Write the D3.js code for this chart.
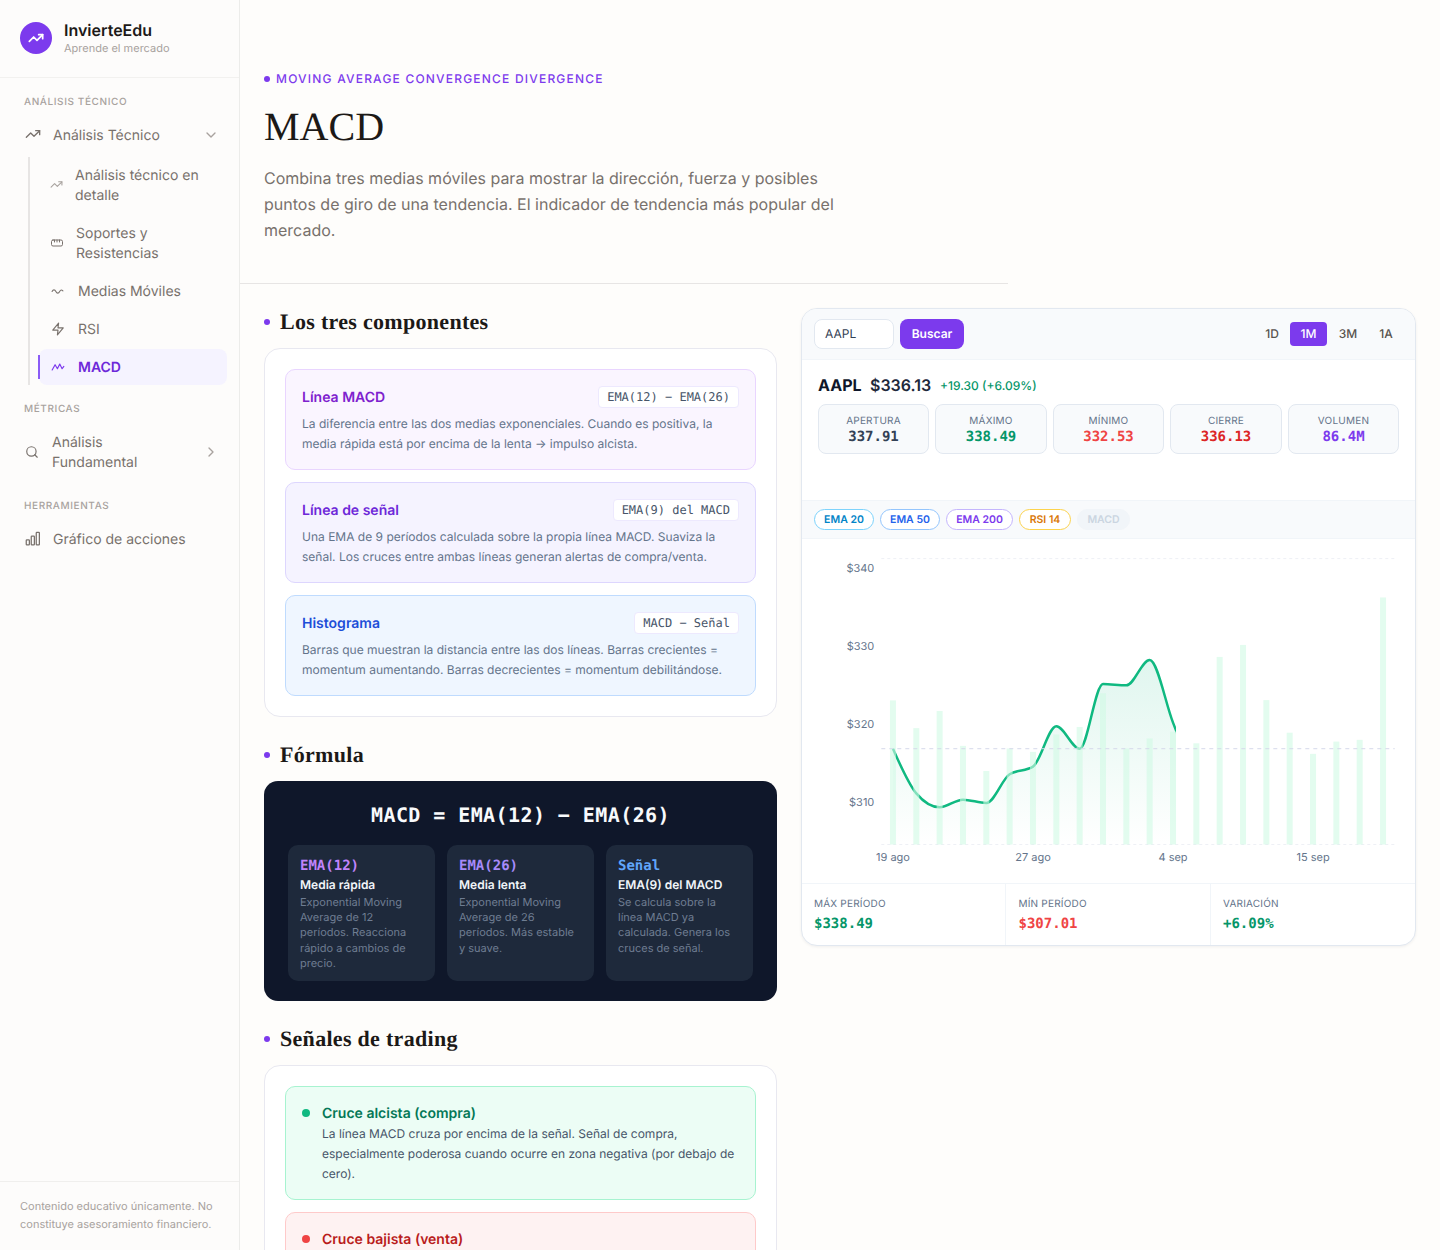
<!DOCTYPE html>
<html lang="es">
<head>
<meta charset="utf-8">
<title>MACD</title>
<script src="https://cdn.jsdelivr.net/npm/d3@7"></script>
<style>
* { box-sizing: border-box; margin: 0; padding: 0; }
html, body { width: 1440px; height: 1250px; overflow: hidden; background: #fefdfb; font-family: Inter, sans-serif; text-rendering: geometricPrecision; }
.abs { position: absolute; white-space: nowrap; }
.mono { font-family: "DejaVu Sans Mono", monospace; }
.serif { font-family: "Liberation Serif", serif; }

#sidebar { position: absolute; left: 0; top: 0; width: 240px; height: 1250px; border-right: 1px solid #ececea; background: #fdfcfb; }
#sidebar .nav { font-size: 14px; line-height: 20px; color: #78716c; margin-top: 1px; }
#sidebar .sec { font-size: 10px; font-weight: 500; letter-spacing: .6px; color: #a8a29e; line-height: 14px; margin-top: 1px; }
#sidebar svg { position: absolute; fill: none; stroke: #78716c; stroke-width: 2; stroke-linecap: round; stroke-linejoin: round; }

#head { position: absolute; left: 240px; top: 0; width: 768px; height: 284px; border-bottom: 1px solid #e7e5e4; }
.eyebrow { position: absolute; left: 36px; top: 71px; font-size: 12px; line-height: 15px; font-weight: 500; letter-spacing: 1.2px; color: #7c3aed; white-space: nowrap; }
.dot { position: absolute; width: 6px; height: 6px; border-radius: 50%; background: #7c3aed; }
h1 { position: absolute; left: 24px; top: 104px; font-size: 40px; line-height: 46px; font-weight: 400; color: #1c1917; }
.lead { position: absolute; left: 24px; top: 165px; width: 590px; font-size: 16px; line-height: 26px; color: #78716c; }

h2 { position: absolute; left: 280px; font-size: 22px; line-height: 26px; font-weight: 700; letter-spacing: .3px; color: #1c1917; white-space: nowrap; }
.panel { position: absolute; left: 264px; width: 513px; background: #fff; border: 1px solid #e8e8f0; border-radius: 16px; }
.comp { position: absolute; left: 20px; width: 471px; height: 101px; border-radius: 10px; border: 1px solid; padding: 16px; }
.comp b { position: absolute; left: 16px; top: 19px; font-size: 14px; line-height: 18px; font-weight: 600; }
.comp .tag { position: absolute; right: 16px; top: 16px; height: 22px; padding: 0 8px; background: #fff; border: 1px solid #ede9fe; border-radius: 4px; font-size: 12px; line-height: 20px; color: #475569; white-space: nowrap; }
.comp p { position: absolute; left: 16px; top: 44px; width: 436px; font-size: 12px; line-height: 20px; color: #64748b; }

#formula { position: absolute; left: 264px; top: 781px; width: 513px; height: 220px; border-radius: 14px; background: #0f172a; }
#formula .eq { position: absolute; left: 0; width: 513px; top: 21px; text-align: center; font-size: 20px; line-height: 26px; font-weight: 700; letter-spacing: .42px; color: #f8fafc; }
.fcard { position: absolute; top: 64px; width: 147px; height: 136px; border-radius: 10px; background: #1e293b; padding: 12px 12px; }
.fcard .t { font-size: 14px; line-height: 18px; font-weight: 700; }
.fcard .s { font-size: 12px; line-height: 15px; margin-top: 2px; font-weight: 600; color: #f1f5f9; }
.fcard .d { font-size: 11px; line-height: 15.2px; margin-top: 3px; color: #6f7d92; }

.sig { position: absolute; left: 20px; width: 471px; border-radius: 10px; border: 1px solid; }
.sig i { position: absolute; left: 16px; top: 22px; width: 8px; height: 8px; border-radius: 50%; }
.sig b { position: absolute; left: 36px; top: 18px; font-size: 14px; line-height: 18px; font-weight: 600; white-space: nowrap; }
.sig p { position: absolute; left: 36px; top: 37px; width: 420px; font-size: 12px; line-height: 20px; color: #475569; }

#card { position: absolute; left: 801px; top: 308px; width: 615px; height: 638px; background: #fff; border: 1px solid #e2e8f0; border-radius: 16px; overflow: hidden; box-shadow: 0 1px 3px rgba(15,23,42,.06); }
#card .abs { line-height: 14px; }
.bar { position: absolute; left: 0; width: 613px; background: #f8fafc; }
.ctr { text-align: center; }
.ohlc { position: absolute; top: 95px; height: 50px; background: #f8fafc; border: 1px solid #e2e8f0; border-radius: 8px; text-align: center; }
.ohlc span { display: block; font-size: 10px; line-height: 12px; margin-top: 10px; letter-spacing: .2px; color: #64748b; }
.ohlc strong { display: block; font-size: 14px; line-height: 18px; margin-top: 1px; font-weight: 700; }
.pill { position: absolute; top: 200px; height: 21px; border: 1px solid; border-radius: 11px; background: #fff; text-align: center; font-size: 10.5px; line-height: 19px; font-weight: 600; white-space: nowrap; }
.stat { position: absolute; top: 575px; height: 62px; padding-left: 12px; }
.stat span { display: block; margin-top: 13px; font-size: 10px; line-height: 14px; letter-spacing: .2px; color: #64748b; }
.stat strong { display: block; margin-top: 4px; font-size: 14px; line-height: 18px; font-weight: 700; }
#chart { position: absolute; left: 1px; top: 230px; }
#chart text { font-family: Inter, sans-serif; font-size: 11px; fill: #64748b; }
</style>
</head>
<body>

<div id="sidebar">
  <div class="abs" style="left:20px;top:22px;width:32px;height:32px;border-radius:50%;background:#7c3aed"></div>
  <svg style="left:28px;top:30px;stroke:#fff;stroke-width:2.6" width="16" height="16" viewBox="0 0 24 24"><path d="M22 7l-8.5 8.5-5-5L2 17"/><path d="M16 7h6v6"/></svg>
  <div class="abs" style="left:64px;top:20px;font-size:16px;line-height:20px;font-weight:600;color:#1c1917">InvierteEdu</div>
  <div class="abs" style="left:64px;top:41px;font-size:11px;line-height:14px;color:#a8a29e">Aprende el mercado</div>
  <div class="abs" style="left:0;top:77px;width:239px;height:1px;background:#f2f1ef"></div>

  <div class="abs sec" style="left:24px;top:94px">ANÁLISIS TÉCNICO</div>
  <svg style="left:25px;top:126px" width="16" height="16" viewBox="0 0 24 24"><path d="M22 7l-8.5 8.5-5-5L2 17"/><path d="M16 7h6v6"/></svg>
  <div class="abs nav" style="left:53px;top:125px">Análisis Técnico</div>
  <svg style="left:203px;top:127px;stroke:#a8a29e" width="16" height="16" viewBox="0 0 24 24"><path d="M6 9l6 6 6-6"/></svg>

  <div class="abs" style="left:28px;top:157px;width:2px;height:228px;background:#e7e5e4"></div>
  <svg style="left:50px;top:178px;stroke:#a8a29e" width="13" height="13" viewBox="0 0 24 24"><path d="M22 7l-8.5 8.5-5-5L2 17"/><path d="M16 7h6v6"/></svg>
  <div class="abs nav" style="left:75px;top:165px">Análisis técnico en<br>detalle</div>
  <svg style="left:51px;top:237px" width="12" height="12" viewBox="0 0 24 24"><rect x="1" y="6" width="22" height="12" rx="3"/><path d="M7 6v4M12 6v4M17 6v4"/></svg>
  <div class="abs nav" style="left:76px;top:223px">Soportes y<br>Resistencias</div>
  <svg style="left:51px;top:285px" width="13" height="13" viewBox="0 0 24 24"><path d="M2 12c2-4 5-4 7 0s5 4 7 0 4-3 6-1"/></svg>
  <div class="abs nav" style="left:78px;top:281px">Medias Móviles</div>
  <svg style="left:51px;top:322px" width="14" height="14" viewBox="0 0 24 24"><path d="M13 2L3 14h9l-1 8 10-12h-9l1-8z"/></svg>
  <div class="abs nav" style="left:78px;top:319px">RSI</div>
  <div class="abs" style="left:39px;top:349px;width:188px;height:36px;border-radius:8px;background:#f5f3ff"></div>
  <div class="abs" style="left:38px;top:355px;width:2px;height:24px;background:#8b5cf6"></div>
  <svg style="left:51px;top:360px;stroke:#7c3aed" width="14" height="14" viewBox="0 0 24 24"><path d="M2 17l5-9 4 7 4-8 4 8 3-4"/></svg>
  <div class="abs nav" style="left:78px;top:357px;font-weight:600;color:#6d28d9">MACD</div>

  <div class="abs sec" style="left:24px;top:401px">MÉTRICAS</div>
  <svg style="left:25px;top:445px" width="14" height="14" viewBox="0 0 24 24"><circle cx="11" cy="11" r="8"/><path d="M21 21l-4.3-4.3"/></svg>
  <div class="abs nav" style="left:52px;top:432px">Análisis<br>Fundamental</div>
  <svg style="left:203px;top:444px;stroke:#a8a29e" width="16" height="16" viewBox="0 0 24 24"><path d="M9 6l6 6-6 6"/></svg>

  <div class="abs sec" style="left:24px;top:498px">HERRAMIENTAS</div>
  <svg style="left:25px;top:531px" width="15" height="15" viewBox="0 0 24 24"><rect x="2" y="14" width="5" height="8" rx="1"/><rect x="10" y="8" width="5" height="14" rx="1"/><rect x="18" y="2" width="5" height="20" rx="1"/></svg>
  <div class="abs nav" style="left:53px;top:529px">Gráfico de acciones</div>

  <div class="abs" style="left:0;top:1181px;width:239px;height:1px;background:#f0efed"></div>
  <div class="abs" style="left:20px;top:1197px;font-size:11px;line-height:18px;color:#a8a29e">Contenido educativo únicamente. No<br>constituye asesoramiento financiero.</div>
</div>

<div id="head">
  <div class="dot" style="left:24px;top:76px"></div>
  <div class="eyebrow">MOVING AVERAGE CONVERGENCE DIVERGENCE</div>
  <h1 class="serif">MACD</h1>
  <p class="lead">Combina tres medias móviles para mostrar la dirección, fuerza y posibles puntos de giro de una tendencia. El indicador de tendencia más popular del mercado.</p>
</div>

<div class="dot" style="left:264px;top:319px"></div>
<h2 class="serif" style="top:309px">Los tres componentes</h2>
<div class="panel" style="top:348px;height:369px">
  <div class="comp" style="top:20px;background:#faf5ff;border-color:#e9d5ff">
    <b style="color:#7e22ce">Línea MACD</b><span class="tag mono">EMA(12) − EMA(26)</span>
    <p>La diferencia entre las dos medias exponenciales. Cuando es positiva, la media rápida está por encima de la lenta → impulso alcista.</p>
  </div>
  <div class="comp" style="top:133px;background:#f5f3ff;border-color:#ddd6fe">
    <b style="color:#6d28d9">Línea de señal</b><span class="tag mono">EMA(9) del MACD</span>
    <p>Una EMA de 9 períodos calculada sobre la propia línea MACD. Suaviza la señal. Los cruces entre ambas líneas generan alertas de compra/venta.</p>
  </div>
  <div class="comp" style="top:246px;background:#eff6ff;border-color:#bfdbfe">
    <b style="color:#1d4ed8">Histograma</b><span class="tag mono">MACD − Señal</span>
    <p>Barras que muestran la distancia entre las dos líneas. Barras crecientes = momentum aumentando. Barras decrecientes = momentum debilitándose.</p>
  </div>
</div>

<div class="dot" style="left:264px;top:752px"></div>
<h2 class="serif" style="top:742px">Fórmula</h2>
<div id="formula">
  <div class="eq mono">MACD = EMA(12) − EMA(26)</div>
  <div class="fcard" style="left:24px">
    <div class="t mono" style="color:#c084fc">EMA(12)</div><div class="s">Media rápida</div>
    <div class="d">Exponential Moving Average de 12 períodos. Reacciona rápido a cambios de precio.</div>
  </div>
  <div class="fcard" style="left:183px">
    <div class="t mono" style="color:#a78bfa">EMA(26)</div><div class="s">Media lenta</div>
    <div class="d">Exponential Moving Average de 26 períodos. Más estable y suave.</div>
  </div>
  <div class="fcard" style="left:342px">
    <div class="t mono" style="color:#60a5fa">Señal</div><div class="s">EMA(9) del MACD</div>
    <div class="d">Se calcula sobre la línea MACD ya calculada. Genera los cruces de señal.</div>
  </div>
</div>

<div class="dot" style="left:264px;top:1036px"></div>
<h2 class="serif" style="top:1026px">Señales de trading</h2>
<div class="panel" style="top:1065px;height:400px">
  <div class="sig" style="top:20px;height:114px;background:#ecfdf5;border-color:#a7f3d0">
    <i style="background:#10b981"></i><b style="color:#047857">Cruce alcista (compra)</b>
    <p>La línea MACD cruza por encima de la señal. Señal de compra, especialmente poderosa cuando ocurre en zona negativa (por debajo de cero).</p>
  </div>
  <div class="sig" style="top:146px;height:114px;background:#fef2f2;border-color:#fecaca">
    <i style="background:#ef4444"></i><b style="color:#b91c1c">Cruce bajista (venta)</b>
  </div>
</div>

<div id="card">
  <div class="bar" style="top:0;height:51px;border-bottom:1px solid #f1f5f9"></div>
  <div class="abs" style="left:12px;top:10px;width:80px;height:30px;background:#fff;border:1px solid #e2e8f0;border-radius:8px"></div>
  <div class="abs" style="left:23px;top:18px;font-size:12px;color:#334155">AAPL</div>
  <div class="abs ctr" style="left:98px;top:10px;width:64px;height:30px;background:#7c3aed;border-radius:8px;color:#fff;font-size:12px;font-weight:600;padding-top:8px">Buscar</div>
  <div class="abs ctr" style="left:450px;top:18px;width:40px;font-size:12px;font-weight:500;color:#57534e">1D</div>
  <div class="abs ctr" style="left:488px;top:13px;width:37px;height:24px;background:#7c3aed;border-radius:4px;color:#fff;font-size:12px;font-weight:500;padding-top:5px">1M</div>
  <div class="abs ctr" style="left:526px;top:18px;width:40px;font-size:12px;font-weight:500;color:#57534e">3M</div>
  <div class="abs ctr" style="left:564px;top:18px;width:40px;font-size:12px;font-weight:500;color:#57534e">1A</div>

  <div class="abs" style="left:16px;top:69px;font-size:16px;font-weight:700;color:#0f172a">AAPL</div>
  <div class="abs" style="left:68px;top:69px;font-size:16px;font-weight:600;color:#1e293b">$336.13</div>
  <div class="abs" style="left:138px;top:70px;font-size:12px;font-weight:500;color:#059669">+19.30 (+6.09%)</div>

  <div class="ohlc" style="left:16px;width:111px"><span>APERTURA</span><strong class="mono" style="color:#334155">337.91</strong></div>
  <div class="ohlc" style="left:133px;width:112px"><span>MÁXIMO</span><strong class="mono" style="color:#059669">338.49</strong></div>
  <div class="ohlc" style="left:251px;width:111px"><span>MÍNIMO</span><strong class="mono" style="color:#ef4444">332.53</strong></div>
  <div class="ohlc" style="left:368px;width:112px"><span>CIERRE</span><strong class="mono" style="color:#dc2626">336.13</strong></div>
  <div class="ohlc" style="left:486px;width:111px"><span>VOLUMEN</span><strong class="mono" style="color:#7c3aed">86.4M</strong></div>

  <div class="bar" style="top:191px;height:39px;border-top:1px solid #f1f5f9;border-bottom:1px solid #f1f5f9"></div>
  <div class="pill" style="left:12px;width:60px;color:#0284c7;border-color:#7dd3fc">EMA 20</div>
  <div class="pill" style="left:78px;width:60px;color:#2563eb;border-color:#93c5fd">EMA 50</div>
  <div class="pill" style="left:144px;width:67px;color:#7c3aed;border-color:#c4b5fd">EMA 200</div>
  <div class="pill" style="left:217px;width:52px;color:#d97706;border-color:#fcd34d">RSI 14</div>
  <div class="pill" style="left:275px;width:53px;color:#cbd5e1;background:#f1f5f9;border-color:#f1f5f9">MACD</div>

  <svg id="chart" width="612" height="344"></svg>

  <div class="abs" style="left:0;top:574px;width:613px;height:1px;background:#f1f5f9"></div>
  <div class="abs" style="left:203px;top:575px;width:1px;height:62px;background:#f1f5f9"></div>
  <div class="abs" style="left:408px;top:575px;width:1px;height:62px;background:#f1f5f9"></div>
  <div class="stat" style="left:0"><span>MÁX PERÍODO</span><strong class="mono" style="color:#059669">$338.49</strong></div>
  <div class="stat" style="left:204.5px"><span>MÍN PERÍODO</span><strong class="mono" style="color:#ef4444">$307.01</strong></div>
  <div class="stat" style="left:409px"><span>VARIACIÓN</span><strong class="mono" style="color:#059669">+6.09%</strong></div>
</div>

<script>
// one trading day per bar, only the four labelled ones are shown on the axis
const dates = [`19 ago`, `20 ago`, `21 ago`, `22 ago`, `23 ago`, `26 ago`, `27 ago`, `28 ago`, `29 ago`, `30 ago`, `2 sep`,
  `3 sep`, `4 sep`, `5 sep`, `8 sep`, `9 sep`, `10 sep`, `11 sep`, `15 sep`, `16 sep`, `17 sep`, `18 sep`];
const xLabels = [`19 ago`, `27 ago`, `4 sep`, `15 sep`];

// volume in millions, every day
const volumes = [50.4, 40.7, 46.7, 34.5, 25.7, 33.6, 32.4, 38.5, 41.1, 52.9, 33.6, 37.1, 39.5, 35.4, 65.6, 69.8, 50.5, 39.1, 31.7, 36, 36.6, 86.4];

// closes: the line is only visible up to 4 sep, the 14th value just gives its falling end
const closes = [316.83, 311.1, 309.32, 310.3, 309.87, 313.55, 314.53, 319.7, 316.83, 325.13, 324.95, 328.2, 320.17, 312.7];
const priceTicks = [310, 320, 330, 340];
const priceDomain = [304.55, 341.2];
const volumeDomain = [0, 100];
const firstClose = 316.83;
const lastVisible = `4 sep`;

const margin = { top: 19.6, right: 20.3, bottom: 38.5, left: 78.3 };
const width = 612;
const height = 344;
const barWidth = 6;

const svg = d3.select(`#chart`);

const x = d3.scaleBand().domain(dates).range([margin.left, width - margin.right]);
const center = (d) => x(d) + x.bandwidth() / 2;
const yPrice = d3.scaleLinear().domain(priceDomain).range([height - margin.bottom, margin.top]);
const yVolume = d3.scaleLinear().domain(volumeDomain).range([height - margin.bottom, margin.top]);

const defs = svg.append(`defs`);
const grad = defs.append(`linearGradient`).attr(`id`, `areaFill`).attr(`x1`, 0).attr(`y1`, 0).attr(`x2`, 0).attr(`y2`, 1);
grad.append(`stop`).attr(`offset`, `0%`).attr(`stop-color`, `#10b981`).attr(`stop-opacity`, 0.13);
grad.append(`stop`).attr(`offset`, `100%`).attr(`stop-color`, `#10b981`).attr(`stop-opacity`, 0);

defs.append(`clipPath`).attr(`id`, `reveal`).append(`rect`)
  .attr(`x`, margin.left)
  .attr(`y`, 0)
  .attr(`width`, center(lastVisible) + barWidth / 2 - margin.left)
  .attr(`height`, height);

// top and bottom grid lines
svg.append(`g`).selectAll(`line`).data(priceDomain).join(`line`)
  .attr(`x1`, margin.left)
  .attr(`x2`, width - margin.right)
  .attr(`y1`, (d) => yPrice(d))
  .attr(`y2`, (d) => yPrice(d))
  .attr(`stroke`, `#eef0f5`)
  .attr(`stroke-width`, 1)
  .attr(`stroke-dasharray`, `3 3`);

const closeData = closes.map((c, i) => ({ date: dates[i], close: c }));

const area = d3.area()
  .x((d) => center(d.date))
  .y0(yPrice(priceDomain[0]))
  .y1((d) => yPrice(d.close))
  .curve(d3.curveMonotoneX);

const line = d3.line()
  .x((d) => center(d.date))
  .y((d) => yPrice(d.close))
  .curve(d3.curveMonotoneX);

const clipped = svg.append(`g`).attr(`clip-path`, `url(#reveal)`);
clipped.append(`path`).datum(closeData).attr(`d`, area).attr(`fill`, `url(#areaFill)`);
clipped.append(`path`).datum(closeData).attr(`d`, line)
  .attr(`fill`, `none`)
  .attr(`stroke`, `#10b981`)
  .attr(`stroke-width`, 2.5);

svg.append(`g`).selectAll(`rect`).data(volumes).join(`rect`)
  .attr(`x`, (d, i) => center(dates[i]) - barWidth / 2)
  .attr(`width`, barWidth)
  .attr(`y`, (d) => yVolume(d))
  .attr(`height`, (d) => yVolume(0) - yVolume(d))
  .attr(`fill`, `#d1fae5`)
  .attr(`fill-opacity`, 0.6);

// reference line at the first close of the period
svg.append(`line`)
  .attr(`x1`, margin.left)
  .attr(`x2`, width - margin.right)
  .attr(`y1`, yPrice(firstClose))
  .attr(`y2`, yPrice(firstClose))
  .attr(`stroke`, `#d5d9ea`)
  .attr(`stroke-width`, 1)
  .attr(`stroke-dasharray`, `4 4`);

const axisY = d3.axisLeft(yPrice).tickValues(priceTicks).tickFormat((d) => `$${d}`).tickSize(0).tickPadding(7);
svg.append(`g`).attr(`transform`, `translate(${margin.left},0)`).call(axisY).call((g) => g.select(`.domain`).remove());

const axisX = d3.axisBottom(x).tickValues(xLabels).tickSize(0).tickPadding(9);
svg.append(`g`).attr(`transform`, `translate(0,${height - margin.bottom})`).call(axisX).call((g) => g.select(`.domain`).remove());
</script>
</body>
</html>
